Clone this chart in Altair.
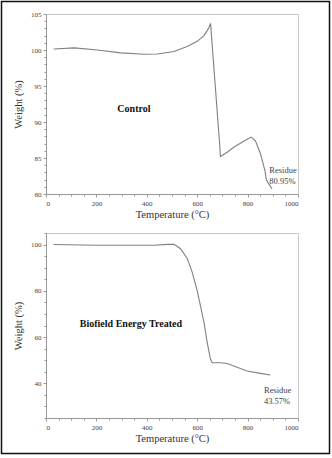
import altair as alt
import pandas as pd

# Control TGA curve
ctrl_temp = [30, 112, 204, 297, 389, 442, 508, 560, 600, 627, 645, 653,
             690, 692, 719, 745, 798, 814, 831, 851, 869, 875, 888, 897]
ctrl_weight = [100.14, 100.3, 100.0, 99.6, 99.4, 99.45, 99.8, 100.5, 101.2, 102.0, 103.0, 103.7,
               86.5, 85.2, 85.8, 86.5, 87.6, 87.9, 87.4, 85.6, 83.2, 81.9, 81.2, 80.7]

# Biofield Energy Treated TGA curve
trt_temp = [30, 204, 429, 482, 508, 534, 561, 580, 600, 613, 627, 640,
            653, 660, 693, 719, 745, 798, 851, 890]
trt_weight = [100.0, 99.7, 99.7, 100.1, 100.1, 98.2, 93.9, 88.1, 80.1, 73.5, 66.3, 57.5,
              50.3, 48.9, 48.9, 48.6, 47.5, 45.3, 44.3, 43.6]

ctrl_ticks = list(range(80, 106, 1))
trt_ticks = list(range(25, 106, 5))
x_ticks = list(range(0, 1001, 50))

# annotation texts
ctrl_title = "Control"
trt_title = "Biofield Energy Treated"
ctrl_residue = ["Residue", "80.95%"]
trt_residue = ["Residue", "43.57%"]

FONT = "'Liberation Serif', 'Times New Roman', serif"
LINE = "#808080"
W = 252

ctrl = pd.DataFrame({"t": ctrl_temp, "w": ctrl_weight})
trt = pd.DataFrame({"t": trt_temp, "w": trt_weight})
one = pd.DataFrame({"a": [0]})


def xaxis():
    return alt.Axis(values=x_ticks, format="d",
                    labelExpr="datum.value % 200 === 0 ? datum.label : ''",
                    tickSize={"condition": {"test": "datum.value % 200 === 0", "value": 3}, "value": 2},
                    title="Temperature (°C)", titlePadding=3, grid=False, labelOverlap=False)


def yaxis(vals, major):
    return alt.Axis(values=vals, format="d",
                    labelExpr=f"datum.value % {major} === 0 ? datum.label : ''",
                    tickSize={"condition": {"test": f"datum.value % {major} === 0", "value": 3}, "value": 2},
                    title="Weight (%)", titlePadding=7, grid=False, labelOverlap=False)


xs = alt.Scale(domain=[0, 1000], nice=False)
ys_top = alt.Scale(domain=[80, 105], nice=False, zero=False)
ys_bot = alt.Scale(domain=[25, 105], nice=False, zero=False)


def enc(chart, ys, vals, major):
    return chart.encode(
        x=alt.X("t:Q", scale=xs, axis=xaxis()),
        y=alt.Y("w:Q", scale=ys, axis=yaxis(vals, major)),
    )


top_line = enc(alt.Chart(ctrl).mark_line(color=LINE, strokeWidth=1.1), ys_top, ctrl_ticks, 5)
top_label = enc(alt.Chart(pd.DataFrame({"t": [349], "w": [91.8], "s": [ctrl_title]}))
                .mark_text(font=FONT, fontSize=10, fontWeight="bold", color="#111"),
                ys_top, ctrl_ticks, 5).encode(text="s:N")
top_res = enc(alt.Chart(pd.DataFrame({"t": [886], "w": [83.3]}))
              .mark_text(font=FONT, fontSize=8.5, color="#444", align="left", baseline="middle", lineHeight=11),
              ys_top, ctrl_ticks, 5).encode(text=alt.value(ctrl_residue))
border = alt.Chart(one).mark_rect(fill=None, fillOpacity=0, stroke="#111", strokeWidth=1.5).encode(
    x=alt.value(-44.5), x2=alt.value(283.5), y=alt.value(-12.5), y2=alt.value(439.5))

top = alt.layer(top_line, top_label, top_res, border).properties(width=W, height=180)

bot_line = enc(alt.Chart(trt).mark_line(color=LINE, strokeWidth=1.1), ys_bot, trt_ticks, 20)
bot_label = enc(alt.Chart(pd.DataFrame({"t": [337], "w": [65.7], "s": [trt_title]}))
                .mark_text(font=FONT, fontSize=10, fontWeight="bold", color="#111"),
                ys_bot, trt_ticks, 20).encode(text="s:N")
bot_res = enc(alt.Chart(pd.DataFrame({"t": [865], "w": [37.2]}))
              .mark_text(font=FONT, fontSize=8.5, color="#444", align="left", baseline="middle", lineHeight=11),
              ys_bot, trt_ticks, 20).encode(text=alt.value(trt_residue))

bot = alt.layer(bot_line, bot_label, bot_res).properties(width=W, height=185)

chart = alt.vconcat(top, bot, spacing=39, bounds="flush").properties(
    padding=0, background="white"
).configure_view(
    stroke="#c8c8c8", strokeWidth=1
).configure_axis(
    labelFont=FONT, labelFontSize=7, labelColor="#444", labelPadding=2,
    titleFont=FONT, titleFontSize=10.5, titleFontWeight="normal", titleColor="#333",
    domainColor="#999", tickColor="#999", domainWidth=1,
)

chart.save("out.html", embed_options={"renderer": "svg", "actions": False})
